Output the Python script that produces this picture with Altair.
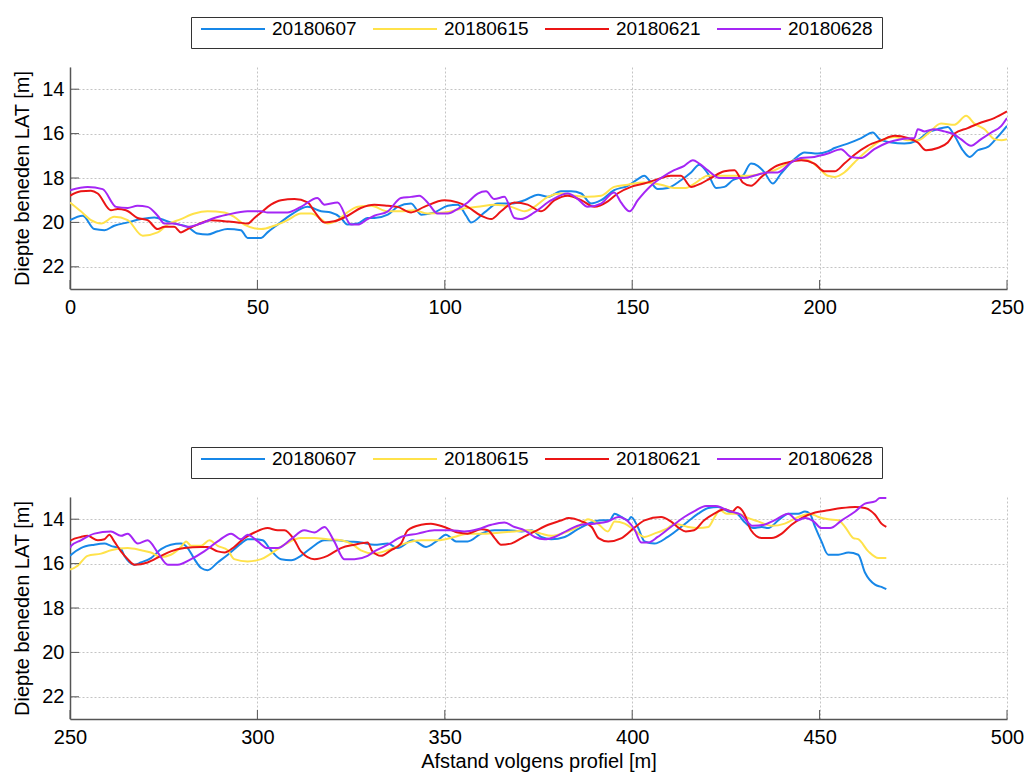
import altair as alt
import pandas as pd

DATES = ["20180607", "20180615", "20180621", "20180628"]
COLORS = ["#1787E8", "#FFE24A", "#EB1515", "#A526F5"]
X_TICKS_TOP = [0, 50, 100, 150, 200, 250]
X_TICKS_BOTTOM = [250, 300, 350, 400, 450, 500]
Y_TICKS = [14, 16, 18, 20, 22]
Y_TITLE = "Diepte beneden LAT [m]"
X_TITLE = "Afstand volgens profiel [m]"

X_0607 = [0, 3.4, 6.5, 9.2, 11.8, 15.4, 19, 22.5, 25.2, 27.8, 31.4, 34, 36.7, 39.4, 42, 45.6, 47.4, 51, 52.7, 55.4,
          59, 63.4, 67, 69.6, 72.3, 74, 76.8, 79.4, 81.2, 84.8, 87.4, 91, 93.7, 97.2, 100.8, 103.5, 105.7, 107, 110.6,
          114.1, 117.7, 121.3, 124.9, 127.5, 131, 133.7, 136.4, 139, 141.7, 145.2, 148.8, 151.5, 153.2, 155, 156.8,
          159.5, 163, 165.7, 167.9, 170.2, 172.4, 174.6, 176.8, 179.5, 181.7, 183.5, 185.3, 187.5, 189.7, 193.3, 196,
          199.5, 202.2, 204, 207.5, 211.1, 214.2, 216, 219.1, 222.6, 226.2, 228.9, 231.5, 234.2, 236, 238.2, 240,
          242.2, 244.9, 247.5, 250,
          250.3, 252.9, 256.5, 259.2, 260.9, 263.6, 264.5, 267.2, 268.9, 271.6, 274.3, 276.9, 279.6, 281.4, 283.2,
          285, 286.7, 289.4, 292.1, 295.6, 297.4, 299.2, 301.4, 303.6, 306.3, 309, 311.6, 314.3, 317.9, 321.4, 324.1,
          327.6, 331.2, 334.8, 337.4, 341.4, 345, 348.1, 350.3, 353, 356.1, 359.7, 363.3, 366.8, 370.5, 373.1, 375.7,
          378.4, 382, 385.5, 389.1, 391.7, 394, 395.3, 397.1, 398.9, 399.7, 401.5, 403.3, 405.9, 409.5, 414.9, 417.6,
          420.3, 422.9, 425.6, 427.9, 430.1, 432.3, 434.5, 436.3, 439, 441.7, 444.3, 446.1, 447.4, 448.8, 450.5, 452.3,
          455, 457.7, 460.3, 462.1, 464.8, 466.5, 467.8]
Y_0607 = [19.9, 19.7, 20.3, 20.35, 20.15, 20.0, 19.85, 19.78, 19.9, 20.05, 20.2, 20.5, 20.55, 20.4, 20.3, 20.35, 20.7,
          20.7, 20.45, 20.1, 19.65, 19.3, 19.5, 19.55, 19.8, 20.1, 20.05, 19.8, 19.8, 19.65, 19.3, 19.15, 19.65, 19.55,
          19.25, 19.2, 19.7, 20.0, 19.55, 19.15, 19.15, 19.0, 18.75, 18.85, 18.6, 18.6, 18.7, 19.15, 19.0, 18.55, 18.35,
          18.05, 17.9, 18.2, 18.5, 18.45, 18.1, 17.75, 17.4, 17.8, 18.45, 18.4, 18.1, 17.9, 17.35, 17.45, 17.75, 18.25,
          17.8, 17.15, 16.85, 16.9, 16.8, 16.65, 16.45, 16.2, 15.95, 16.25, 16.4, 16.45, 16.3, 15.95, 15.8, 15.7, 16.1,
          16.75, 17.05, 16.75, 16.6, 16.15, 15.65,
          15.6, 15.3, 15.15, 15.1, 15.2, 15.35, 15.65, 16.05, 15.95, 15.75, 15.35, 15.15, 15.1, 15.3, 15.8, 16.2, 16.3,
          15.95, 15.6, 15.1, 14.9, 14.9, 14.95, 15.4, 15.8, 15.85, 15.65, 15.3, 14.95, 14.95, 15.0, 15.05, 15.15, 15.1,
          15.3, 14.95, 15.25, 14.95, 14.7, 15.0, 15.0, 14.65, 14.5, 14.5, 14.55, 14.5, 14.8, 14.9, 14.8, 14.45, 14.15,
          14.05, 14.05, 13.75, 13.9, 14.05, 13.9, 14.35, 15.0, 15.1, 14.8, 14.1, 13.75, 13.5, 13.45, 13.65, 13.75, 14.15,
          14.4, 14.35, 14.4, 14.05, 13.75, 13.75, 13.65, 13.75, 14.35, 15.0, 15.6, 15.6, 15.5, 15.6, 16.4, 16.95, 17.05,
          17.15]

X_0615 = [0, 2.9, 5.6, 8.3, 11.8, 15.4, 19.4, 23.4, 26, 29.6, 33.2, 36.7, 41.2, 43.8, 46.5, 51, 54.5, 58, 61.6, 64.3,
          67, 68.7, 71.4, 74, 76.8, 80.3, 84.8, 88.3, 91.9, 95.4, 99.9, 104.3, 108.8, 113.2, 117.7, 121.3, 123.9, 127.5,
          131, 134.6, 138.1, 141.7, 145.2, 148.8, 153.2, 157.7, 161.2, 164.3, 166.6, 170.2, 175.5, 180.8, 184.5, 188,
          191.5, 194.2, 196.8, 199.5, 202.2, 204, 206.6, 209.3, 212.8, 216.5, 220, 223.5, 226.2, 228.9, 232.4, 236,
          239.1, 241.3, 244, 246.6, 248.5, 250,
          250.3, 252, 254.7, 258.3, 260.9, 265.4, 269, 271.6, 274.3, 276.9, 279.6, 281, 282.3, 285, 287.2, 289.4, 292.1,
          293.8, 297.4, 301, 303.6, 307.2, 311.6, 315.2, 318.7, 322.3, 325, 327.6, 331.2, 334.8, 339.2, 343.7, 348.1,
          352.5, 356.1, 360.5, 365, 368.6, 372.2, 375.7, 378.4, 382, 385.5, 388.2, 390.8, 393.5, 395.3, 398, 400.6,
          403.3, 405.9, 409.5, 411.4, 414.9, 417.6, 420.3, 422, 423.4, 425.2, 428.3, 431, 433.6, 437.2, 440.7, 444.3,
          447.4, 449.7, 452.3, 455, 456.8, 459, 460.3, 463, 465.7, 467.8]
Y_0615 = [19.1, 19.5, 19.9, 20.05, 19.75, 19.9, 20.6, 20.45, 20.1, 19.85, 19.6, 19.5, 19.55, 19.75, 20.1, 20.3, 20.15,
          19.9, 19.6, 19.6, 19.85, 20.05, 19.9, 19.55, 19.3, 19.25, 19.5, 19.5, 19.45, 19.6, 19.55, 19.4, 19.3, 19.2,
          19.3, 19.5, 19.3, 18.85, 18.7, 18.8, 18.85, 18.8, 18.4, 18.3, 18.2, 18.3, 18.45, 18.45, 18.25, 17.9, 17.9,
          17.9, 17.8, 17.65, 17.35, 17.15, 17.2, 17.5, 17.9, 17.95, 17.75, 17.3, 16.75, 16.3, 16.15, 16.3, 16.3, 16.0,
          15.55, 15.6, 15.2, 15.55, 15.8, 16.25, 16.3, 16.25,
          16.25, 16.1, 15.65, 15.55, 15.4, 15.3, 15.4, 15.5, 15.7, 15.6, 15.25, 15.0, 15.2, 15.2, 14.95, 15.2, 15.4,
          15.8, 15.9, 15.8, 15.55, 15.15, 14.85, 14.85, 14.9, 14.95, 15.1, 15.4, 15.55, 15.4, 15.1, 14.95, 14.95, 14.8,
          14.65, 14.65, 14.6, 14.55, 14.5, 14.65, 14.75, 14.6, 14.35, 14.0, 14.2, 14.55, 14.1, 14.2, 14.5, 14.8, 14.65,
          14.4, 14.2, 14.35, 14.4, 14.35, 13.9, 13.6, 13.75, 13.75, 13.95, 14.1, 14.3, 14.2, 13.9, 13.75, 13.9, 14.0,
          14.05, 14.35, 14.85, 14.9, 15.45, 15.75, 15.75]

X_0621 = [0, 2.9, 5.6, 7.4, 10.9, 12.7, 14.9, 18, 20.7, 23.4, 25.2, 27.8, 29.6, 31.4, 34, 37.6, 41.2, 44.7, 47.4, 49.2,
          51, 53.6, 56.3, 59.9, 63.4, 65.2, 67.9, 70.5, 74.1, 77.6, 81.2, 84.8, 87.4, 91, 94.5, 99.9, 103.4, 106.1,
          109.7, 112.4, 115, 118.6, 122.1, 125.7, 129.3, 132.8, 136.4, 139.9, 143.5, 146.1, 149.7, 153.2, 156.8, 160.3,
          163, 165.7, 168.3, 171, 174.6, 177.3, 179.5, 181.7, 184.5, 188, 191.5, 195.1, 198.6, 201.3, 204, 206.6,
          209.3, 212.8, 216.5, 220, 223.5, 226.2, 228.4, 231.5, 234.2, 236, 239.5, 243.1, 246.6, 250,
          250.3, 252.9, 254.7, 257.4, 259.2, 260.5, 261.8, 263.6, 265.4, 267.2, 270.7, 274.3, 276.9, 280.5, 285, 286.7,
          289.4, 291.2, 293.8, 296.5, 299.2, 302.7, 305.4, 307.2, 309.9, 311.6, 315.2, 318.7, 322.3, 325.9, 329.4,
          330.7, 333, 335.6, 338.3, 340.1, 343.7, 346.3, 349.9, 353.5, 356.1, 359.7, 361.5, 363.3, 365, 367.7, 370.5,
          374, 377.6, 381.2, 383, 386.5, 389.2, 391, 393.6, 397.2, 400.8, 403.3, 407.7, 410.3, 412.5, 414.3, 416.5,
          419.2, 421.9, 424.6, 426.8, 428.1, 429.9, 431.7, 434.5, 437.2, 439.9, 442.5, 445.2, 448.8, 452.3, 455.9,
          459.5, 462.1, 464.8, 466.5, 467.8]
Y_0621 = [18.8, 18.6, 18.57, 18.7, 19.45, 19.4, 19.45, 19.8, 19.9, 20.3, 20.2, 20.2, 20.45, 20.3, 20.1, 19.9, 19.95,
          20.0, 20.05, 19.8, 19.55, 19.2, 19.0, 18.95, 19.1, 19.5, 20.0, 19.95, 19.7, 19.35, 19.2, 19.25, 19.3, 19.55,
          19.3, 19.0, 19.1, 19.3, 19.7, 19.85, 19.5, 19.1, 19.2, 19.5, 19.0, 18.8, 19.0, 19.3, 19.05, 18.7, 18.4, 18.25,
          18.05, 17.9, 17.9, 18.4, 18.25, 18.0, 17.7, 17.65, 18.2, 18.35, 17.95, 17.5, 17.3, 17.2, 17.35, 17.7, 17.7,
          17.35, 16.95, 16.55, 16.3, 16.1, 16.2, 16.4, 16.75, 16.65, 16.4, 16.0, 15.75, 15.5, 15.3, 15.0,
          14.95, 14.8, 14.75, 14.95, 14.9, 14.7, 15.0, 15.45, 15.8, 16.05, 15.95, 15.65, 15.45, 15.3, 15.25, 15.25,
          15.45, 15.5, 15.25, 14.85, 14.6, 14.4, 14.5, 14.5, 14.95, 15.45, 15.8, 15.65, 15.3, 15.15, 15.05, 15.45,
          15.65, 15.4, 15.1, 14.5, 14.25, 14.2, 14.35, 14.6, 14.65, 14.45, 14.5, 14.85, 15.15, 15.1, 14.85, 14.55,
          14.25, 14.05, 13.95, 14.1, 14.35, 14.85, 15.0, 14.85, 14.35, 14.05, 13.9, 14.1, 14.4, 14.55, 14.5, 14.05,
          13.75, 13.55, 13.65, 13.45, 13.75, 14.5, 14.85, 14.85, 14.65, 14.25, 13.95, 13.7, 13.6, 13.5, 13.45, 13.5,
          13.8, 14.2, 14.35]

X_0628 = [0, 4.7, 8.7, 12.3, 15.4, 18, 20.7, 23.4, 25.2, 27.8, 31.4, 34.9, 38.5, 42, 47.4, 51, 52.7, 58, 61.6, 66,
          67.9, 71.4, 75, 76.8, 79.4, 81.2, 84.8, 88.3, 91, 93.2, 95.4, 98.1, 100.8, 103.4, 106.1, 108.8, 111, 113.2,
          115.9, 118.6, 120.3, 123.9, 128.4, 132.8, 135.5, 138.1, 141.7, 145.2, 147, 149.3, 151.5, 155, 158.6, 161.2,
          163.9, 166.2, 167.9, 170.2, 173.3, 176.4, 179.9, 183.5, 186.1, 188.8, 192.4, 195, 198.6, 202.2, 205.7, 208.4,
          211.1, 214.6, 218.2, 221.7, 225.3, 226.2, 228, 230.6, 233.3, 236, 237.7, 240.4, 243.1, 245.8, 248.5, 250,
          250.3, 252.9, 256.5, 260.9, 263.6, 265.4, 268.1, 270.7, 273.4, 276.1, 278.7, 282.3, 285.8, 289.4, 293, 295.6,
          297.4, 300.1, 302.7, 305.4, 309, 312.5, 315.2, 317.9, 320.5, 323.2, 325.9, 329.4, 331.2, 334.8, 338.3, 342.8,
          347.2, 351.6, 355.2, 358.8, 362.4, 365.9, 368.6, 371.3, 374, 376.6, 379.3, 382.8, 386.4, 390, 393.5, 396.3,
          398.9, 400.6, 402.4, 404.2, 406.8, 410.3, 413.9, 416.5, 419.7, 422.3, 424.1, 426.3, 429, 432.2, 435.2, 437.9,
          441.7, 443.9, 446.1, 448.4, 450.5, 452.8, 455.9, 459.5, 462.1, 464.8, 466.1, 467.8]
Y_0628 = [18.55, 18.4, 18.5, 19.3, 19.35, 19.25, 19.3, 19.7, 20.05, 20.05, 20.2, 20.05, 19.8, 19.65, 19.5, 19.5, 19.55,
          19.55, 19.3, 18.9, 19.2, 19.1, 20.1, 20.1, 19.85, 19.7, 19.5, 18.9, 18.85, 18.8, 19.1, 19.6, 19.6, 19.4, 19.1,
          18.7, 18.6, 18.95, 18.85, 19.8, 19.85, 19.55, 19.0, 18.7, 18.95, 19.3, 19.15, 18.65, 19.1, 19.5, 19.0, 18.35,
          17.9, 17.65, 17.45, 17.2, 17.35, 17.65, 18.0, 18.0, 18.0, 17.85, 17.75, 17.75, 17.3, 17.1, 17.05, 16.9, 16.7,
          17.05, 17.1, 16.7, 16.4, 16.25, 16.2, 15.8, 15.9, 15.8, 15.9, 16.05, 16.25, 16.55, 16.25, 15.95, 15.65, 15.3,
          15.2, 14.95, 14.65, 14.55, 14.75, 14.65, 15.1, 14.95, 15.5, 16.05, 16.05, 15.8, 15.45, 15.0, 14.65, 14.9,
          14.7, 15.0, 15.3, 15.3, 14.9, 14.5, 14.6, 14.35, 15.0, 15.8, 15.8, 15.65, 15.45, 15.15, 14.8, 14.65, 14.5,
          14.5, 14.55, 14.45, 14.25, 14.15, 14.35, 14.5, 14.8, 14.9, 14.8, 14.5, 14.25, 14.2, 14.1, 13.9, 14.1, 14.45,
          15.05, 15.05, 14.8, 14.35, 13.9, 13.65, 13.4, 13.4, 13.5, 13.65, 13.8, 14.3, 14.25, 14.05, 13.75, 14.05,
          13.95, 14.1, 14.4, 14.4, 14.05, 13.65, 13.3, 13.2, 13.05, 13.05]

SERIES = {
    "20180607": (X_0607, Y_0607),
    "20180615": (X_0615, Y_0615),
    "20180621": (X_0621, Y_0621),
    "20180628": (X_0628, Y_0628),
}

rows = []
for d, (xs, ys) in SERIES.items():
    for i, (xv, yv) in enumerate(zip(xs, ys)):
        rows.append({"date": d, "x": xv, "y": yv, "i": i})
df = pd.DataFrame(rows)

FONT = "Liberation Sans"
PLOT_W, PLOT_H = 937, 222


def panel(data, xdomain, xticks, xtitle):
    xscale = alt.Scale(domain=xdomain, nice=False, zero=False)
    yscale = alt.Scale(domain=[13, 23], reverse=True, nice=False, zero=False)
    xaxis = alt.Axis(values=xticks, title=xtitle, format="d", labelFlush=False)
    yaxis = alt.Axis(values=Y_TICKS, title=Y_TITLE, format="d")
    lines = alt.Chart(data).mark_line(strokeWidth=2, clip=True, interpolate="monotone").encode(
        x=alt.X("x:Q", scale=xscale, axis=xaxis),
        y=alt.Y("y:Q", scale=yscale, axis=yaxis),
        color=alt.Color(
            "date:N",
            scale=alt.Scale(domain=DATES, range=COLORS),
            legend=alt.Legend(
                title=None, orient="none", legendX=121, legendY=-50, direction="horizontal",
                symbolType="stroke", symbolSize=4096, symbolStrokeWidth=2, clipHeight=6,
                labelFont=FONT, labelFontSize=19, labelColor="black", labelOffset=6,
                columnPadding=15, padding=9, strokeColor="#333", fillColor="white",
            ),
        ),
        order="i:Q",
    )
    xt = alt.Chart(pd.DataFrame({"x": xticks})).mark_rule(color="#555", strokeWidth=1).encode(
        x=alt.X("x:Q", scale=xscale, axis=xaxis),
        y=alt.value(PLOT_H), y2=alt.value(PLOT_H - 9),
    )
    yt = alt.Chart(pd.DataFrame({"y": Y_TICKS})).mark_rule(color="#555", strokeWidth=1).encode(
        y=alt.Y("y:Q", scale=yscale, axis=yaxis),
        x=alt.value(0), x2=alt.value(9),
    )
    return alt.layer(lines, xt, yt).properties(width=PLOT_W, height=PLOT_H)


top = panel(df[df["x"] <= 250], [0, 250], X_TICKS_TOP, None)
bottom = panel(df[df["x"] >= 250], [250, 500], X_TICKS_BOTTOM, X_TITLE)

chart = alt.vconcat(top, bottom, spacing=129).resolve_scale(
    x="independent", y="independent", color="independent"
).resolve_legend(color="independent").properties(
    padding={"left": 12, "top": 16, "right": 2, "bottom": 2}
).configure_view(stroke=None).configure_axis(
    labelFont=FONT, labelFontSize=20, labelColor="black",
    titleFont=FONT, titleFontSize=20, titleFontWeight="normal", titleColor="black",
    ticks=False, domainColor="#555", domainWidth=1.5,
    grid=True, gridColor="#c4c4c4", gridDash=[2, 2], gridWidth=1,
).configure_axisX(labelPadding=8, titlePadding=4).configure_axisY(labelPadding=6, titlePadding=9)

chart.save("out.html", embed_options={"renderer": "svg", "actions": False})
